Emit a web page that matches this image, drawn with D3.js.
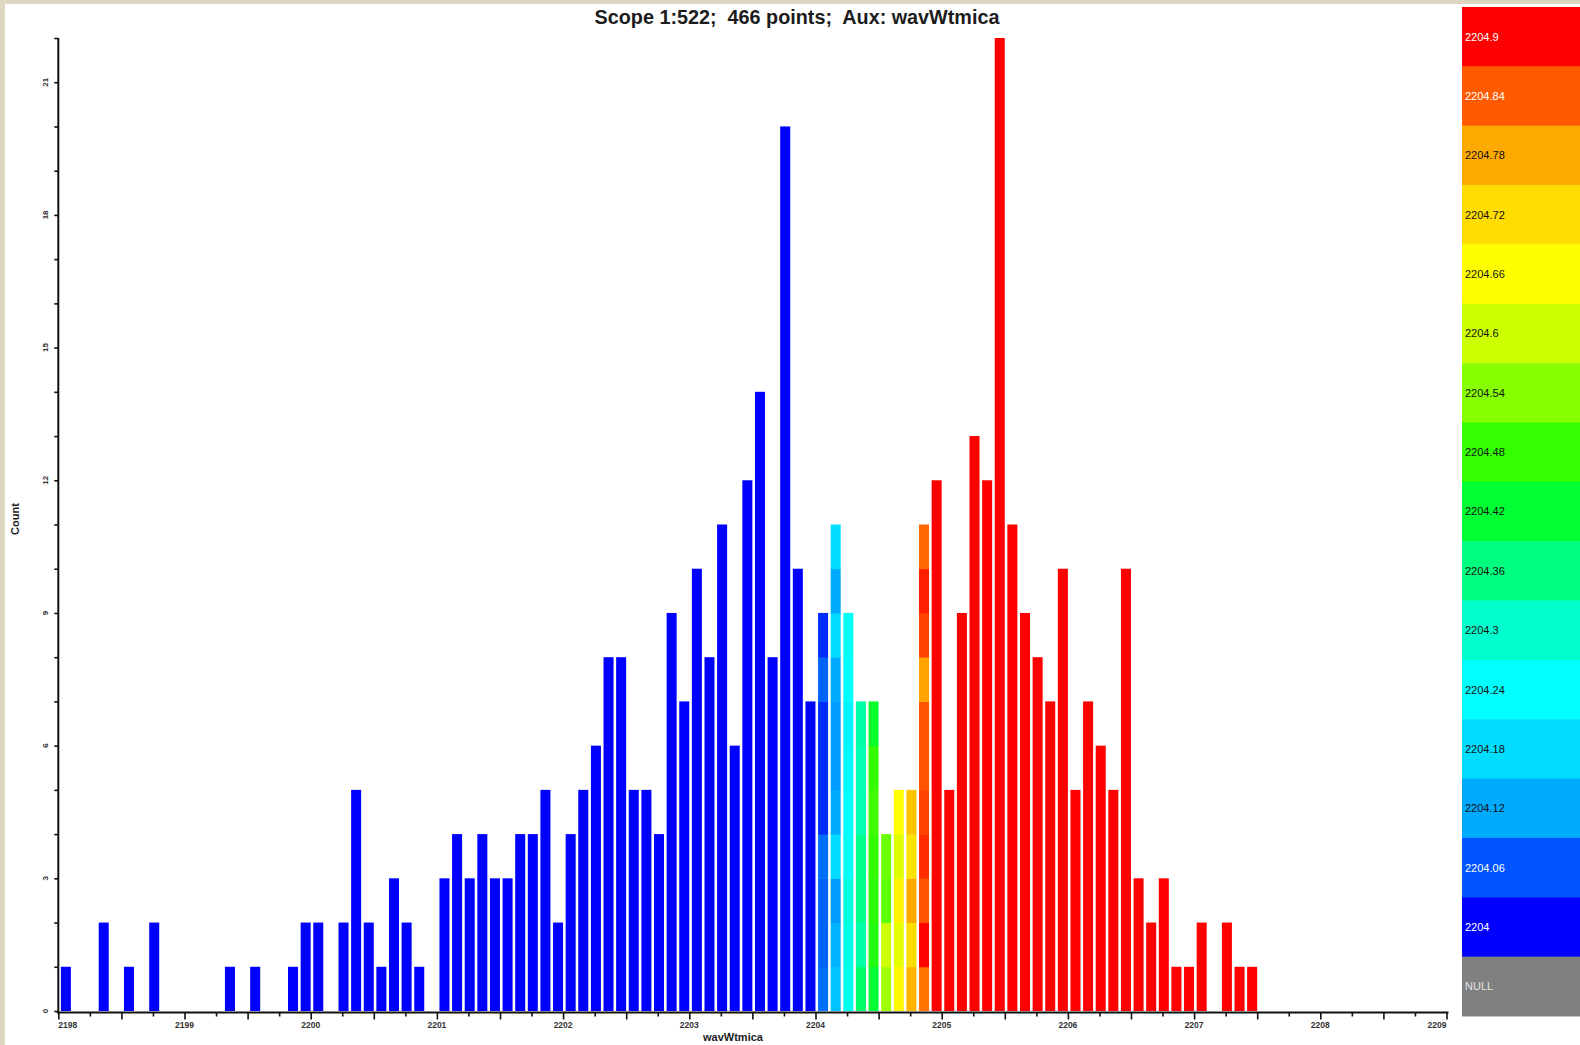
<!DOCTYPE html>
<html>
<head>
<meta charset="utf-8">
<script src="https://cdn.jsdelivr.net/npm/d3@7"></script>
<style>
  html, body { margin: 0; padding: 0; background: #ddd7c1; }
  svg { display: block; font-family: Arial, "Liberation Sans", sans-serif; }
</style>
</head>
<body>
<svg id="chart" width="1580" height="1045"></svg>
<script>
// ---- chart text ----
const chartTitle = "Scope 1:522;  466 points;  Aux: wavWtmica";
const xAxisTitle = "wavWtmica";
const yAxisTitle = "Count";

// ---- histogram bins (wavWtmica, 0.1 wide) ----
const binStart = 2198.01;
const binWidth = 0.1;
const counts = [
  1, 0, 0, 2, 0, 1, 0, 2, 0, 0,      // 2198.0x
  0, 0, 0, 1, 0, 1, 0, 0, 1, 2,      // 2199.0x
  2, 0, 2, 5, 2, 1, 3, 2, 1, 0,      // 2200.0x
  3, 4, 3, 4, 3, 3, 4, 4, 5, 2,      // 2201.0x
  4, 5, 6, 8, 8, 5, 5, 4, 9, 7,      // 2202.0x
  10, 8, 11, 6, 12, 14, 8, 20, 10, 7, // 2203.0x
  9, 11, 9, 7, 7, 4, 5, 5, 11, 12,   // 2204.0x
  5, 9, 13, 12, 22, 11, 9, 8, 7, 10, // 2205.0x
  5, 7, 6, 5, 10, 3, 2, 3, 1, 1,     // 2206.0x
  2, 0, 2, 1, 1                      // 2207.0x
];

// Aux values of the points inside the bins that straddle the colour range,
// listed from the bottom of each stack to the top.
const mixedFirstBin = 60;
const mixedBinValues = [
  [2204.08, 2204.07, 2204.07, 2204.08, 2204.03, 2204.03, 2204.03, 2204.07, 2204.03],
  [2204.15, 2204.13, 2204.11, 2204.18, 2204.12, 2204.11, 2204.11, 2204.12, 2204.18, 2204.12, 2204.18],
  [2204.26, 2204.27, 2204.28, 2204.25, 2204.24, 2204.23, 2204.22, 2204.24, 2204.25],
  [2204.38, 2204.33, 2204.35, 2204.35, 2204.32, 2204.32, 2204.33],
  [2204.42, 2204.46, 2204.47, 2204.48, 2204.49, 2204.48, 2204.43],
  [2204.56, 2204.60, 2204.51, 2204.52],
  [2204.67, 2204.63, 2204.68, 2204.62, 2204.66],
  [2204.77, 2204.72, 2204.78, 2204.71, 2204.75],
  [2204.82, 2204.90, 2204.845, 2204.87, 2204.855, 2204.845, 2204.845, 2204.785, 2204.855, 2204.88, 2204.83]
];

// ---- colour key for the Aux variable ----
const legendValues = [2204, 2204.06, 2204.12, 2204.18, 2204.24, 2204.3, 2204.36, 2204.42,
                      2204.48, 2204.54, 2204.6, 2204.66, 2204.72, 2204.78, 2204.84, 2204.9];
const legendColors = ["#0000ff", "#0055ff", "#00aaff", "#00ddff", "#00ffff", "#00ffcc", "#00ff80", "#00ff33",
                      "#33ff00", "#88ff00", "#ccff00", "#ffff00", "#ffdd00", "#ffaa00", "#ff5a00", "#ff0000"];
const legendDarkText = [false, false, true, true, true, true, true, true,
                        true, true, true, true, true, true, false, false];
const nullLabel = "NULL";
const nullColor = "#808080";

// ---- axis ticks ----
const xMin = 2198, xMax = 2209;
const yMax = 22;
const xTickLabels = d3.range(2198, 2210, 1);
const yTickLabels = d3.range(0, 22, 3);

// ---------------------------------------------------------------
const svg = d3.select("#chart");

// white page panel inside the beige frame
svg.append("rect").attr("x", 5).attr("y", 4).attr("width", 1575).attr("height", 1041).attr("fill", "#ffffff");

const x = d3.scaleLinear().domain([xMin, xMax]).range([58.3, 1446.5]);
const y = d3.scaleLinear().domain([0, yMax]).range([1011, 38]);
const color = d3.scaleLinear().domain(legendValues).range(legendColors).clamp(true);

// bars: each bin is a stack of points coloured by their Aux value;
// neighbouring points of the same colour are merged into one block
const blocks = [];
counts.forEach((n, k) => {
  const lo = binStart + k * binWidth;
  const mixed = mixedBinValues[k - mixedFirstBin];
  let start = 0;
  for (let j = 1; j <= n; j++) {
    const cPrev = color(mixed ? mixed[j - 1] : lo + binWidth / 2);
    const cHere = j < n ? color(mixed ? mixed[j] : lo + binWidth / 2) : null;
    if (cHere !== cPrev) {
      blocks.push({ lo, from: start, to: j, fill: cPrev });
      start = j;
    }
  }
});

const barPad = 1.3;
svg.append("g").attr("class", "bars")
  .selectAll("rect").data(blocks).join("rect")
  .attr("x", d => x(d.lo) + barPad)
  .attr("width", d => x(d.lo + binWidth) - x(d.lo) - 2 * barPad)
  .attr("y", d => y(d.to))
  .attr("height", d => y(d.from) - y(d.to) + (d.from > 0 ? 0.5 : 0))
  .attr("fill", d => d.fill);

// ---- y axis ----
const yAxis = svg.append("g").attr("transform", "translate(58.3,0)")
  .call(d3.axisLeft(y).tickValues(d3.range(0, yMax + 1)).tickSize(4).tickSizeOuter(0).tickFormat(""));
yAxis.select(".domain").attr("stroke", "#111").attr("stroke-width", 2)
  .attr("d", `M0,${y(yMax)}V${y(0) + 1.5}`);
yAxis.selectAll(".tick line").attr("stroke", "#111").attr("stroke-width", 1.6);

svg.append("g").selectAll("text").data(yTickLabels).join("text")
  .attr("transform", d => `translate(48,${y(d)}) rotate(-90)`)
  .attr("text-anchor", "middle")
  .attr("font-size", 8)
  .attr("font-weight", "bold")
  .attr("fill", "#333")
  .text(d => d);

// ---- x axis ----
const xAxisY = 1012.5;
const xAxis = svg.append("g").attr("transform", `translate(0,${xAxisY})`)
  .call(d3.axisBottom(x).tickValues(d3.range(xMin, xMax + 0.001, 0.25)).tickSize(6).tickSizeOuter(0).tickFormat(""));
xAxis.select(".domain").attr("stroke", "#111").attr("stroke-width", 2)
  .attr("d", `M${x(xMin) - 1.5},0H${x(xMax) + 2}`);
xAxis.selectAll(".tick line")
  .attr("stroke", "#111").attr("stroke-width", 1.6)
  .attr("y2", d => (Math.abs(d * 2 - Math.round(d * 2)) < 1e-6 ? 7 : 4));

svg.append("g").selectAll("text").data(xTickLabels).join("text")
  .attr("x", d => x(d))
  .attr("y", 1028)
  .attr("text-anchor", (d, i) => i === 0 ? "start" : (i === xTickLabels.length - 1 ? "end" : "middle"))
  .attr("font-size", 8.5)
  .attr("font-weight", "bold")
  .attr("fill", "#333")
  .text(d => d);

// ---- titles ----
svg.append("text")
  .attr("x", 797).attr("y", 24)
  .attr("text-anchor", "middle")
  .attr("font-size", 19.8)
  .attr("font-weight", "bold")
  .attr("fill", "#1c1c1c")
  .style("white-space", "pre")
  .text(chartTitle);

svg.append("text")
  .attr("x", 733).attr("y", 1041)
  .attr("text-anchor", "middle")
  .attr("font-size", 11)
  .attr("font-weight", "bold")
  .attr("fill", "#1c1c1c")
  .text(xAxisTitle);

svg.append("text")
  .attr("transform", "translate(19,519) rotate(-90)")
  .attr("text-anchor", "middle")
  .attr("font-size", 11)
  .attr("font-weight", "bold")
  .attr("fill", "#1c1c1c")
  .text(yAxisTitle);

// ---- colour key (highest value on top, NULL at the bottom) ----
const keyItems = legendValues.map((v, i) => ({ label: String(v), fill: legendColors[i], dark: legendDarkText[i] }))
  .reverse()
  .concat([{ label: nullLabel, fill: nullColor, dark: false, isNull: true }]);
const keyX = 1462, keyTop = 7, keyH = 59.35;
const key = svg.append("g").selectAll("g").data(keyItems).join("g")
  .attr("transform", (d, i) => `translate(${keyX},${keyTop + i * keyH})`);
key.append("rect")
  .attr("width", 1580 - keyX).attr("height", keyH + 0.5)
  .attr("fill", d => d.fill);
key.append("text")
  .attr("x", 3).attr("y", keyH / 2 + 4)
  .attr("font-size", 11)
  .attr("fill", d => d.dark ? "#111" : (d.isNull ? "#e4e4e4" : "#ffffff"))
  .text(d => d.label);
</script>
</body>
</html>
